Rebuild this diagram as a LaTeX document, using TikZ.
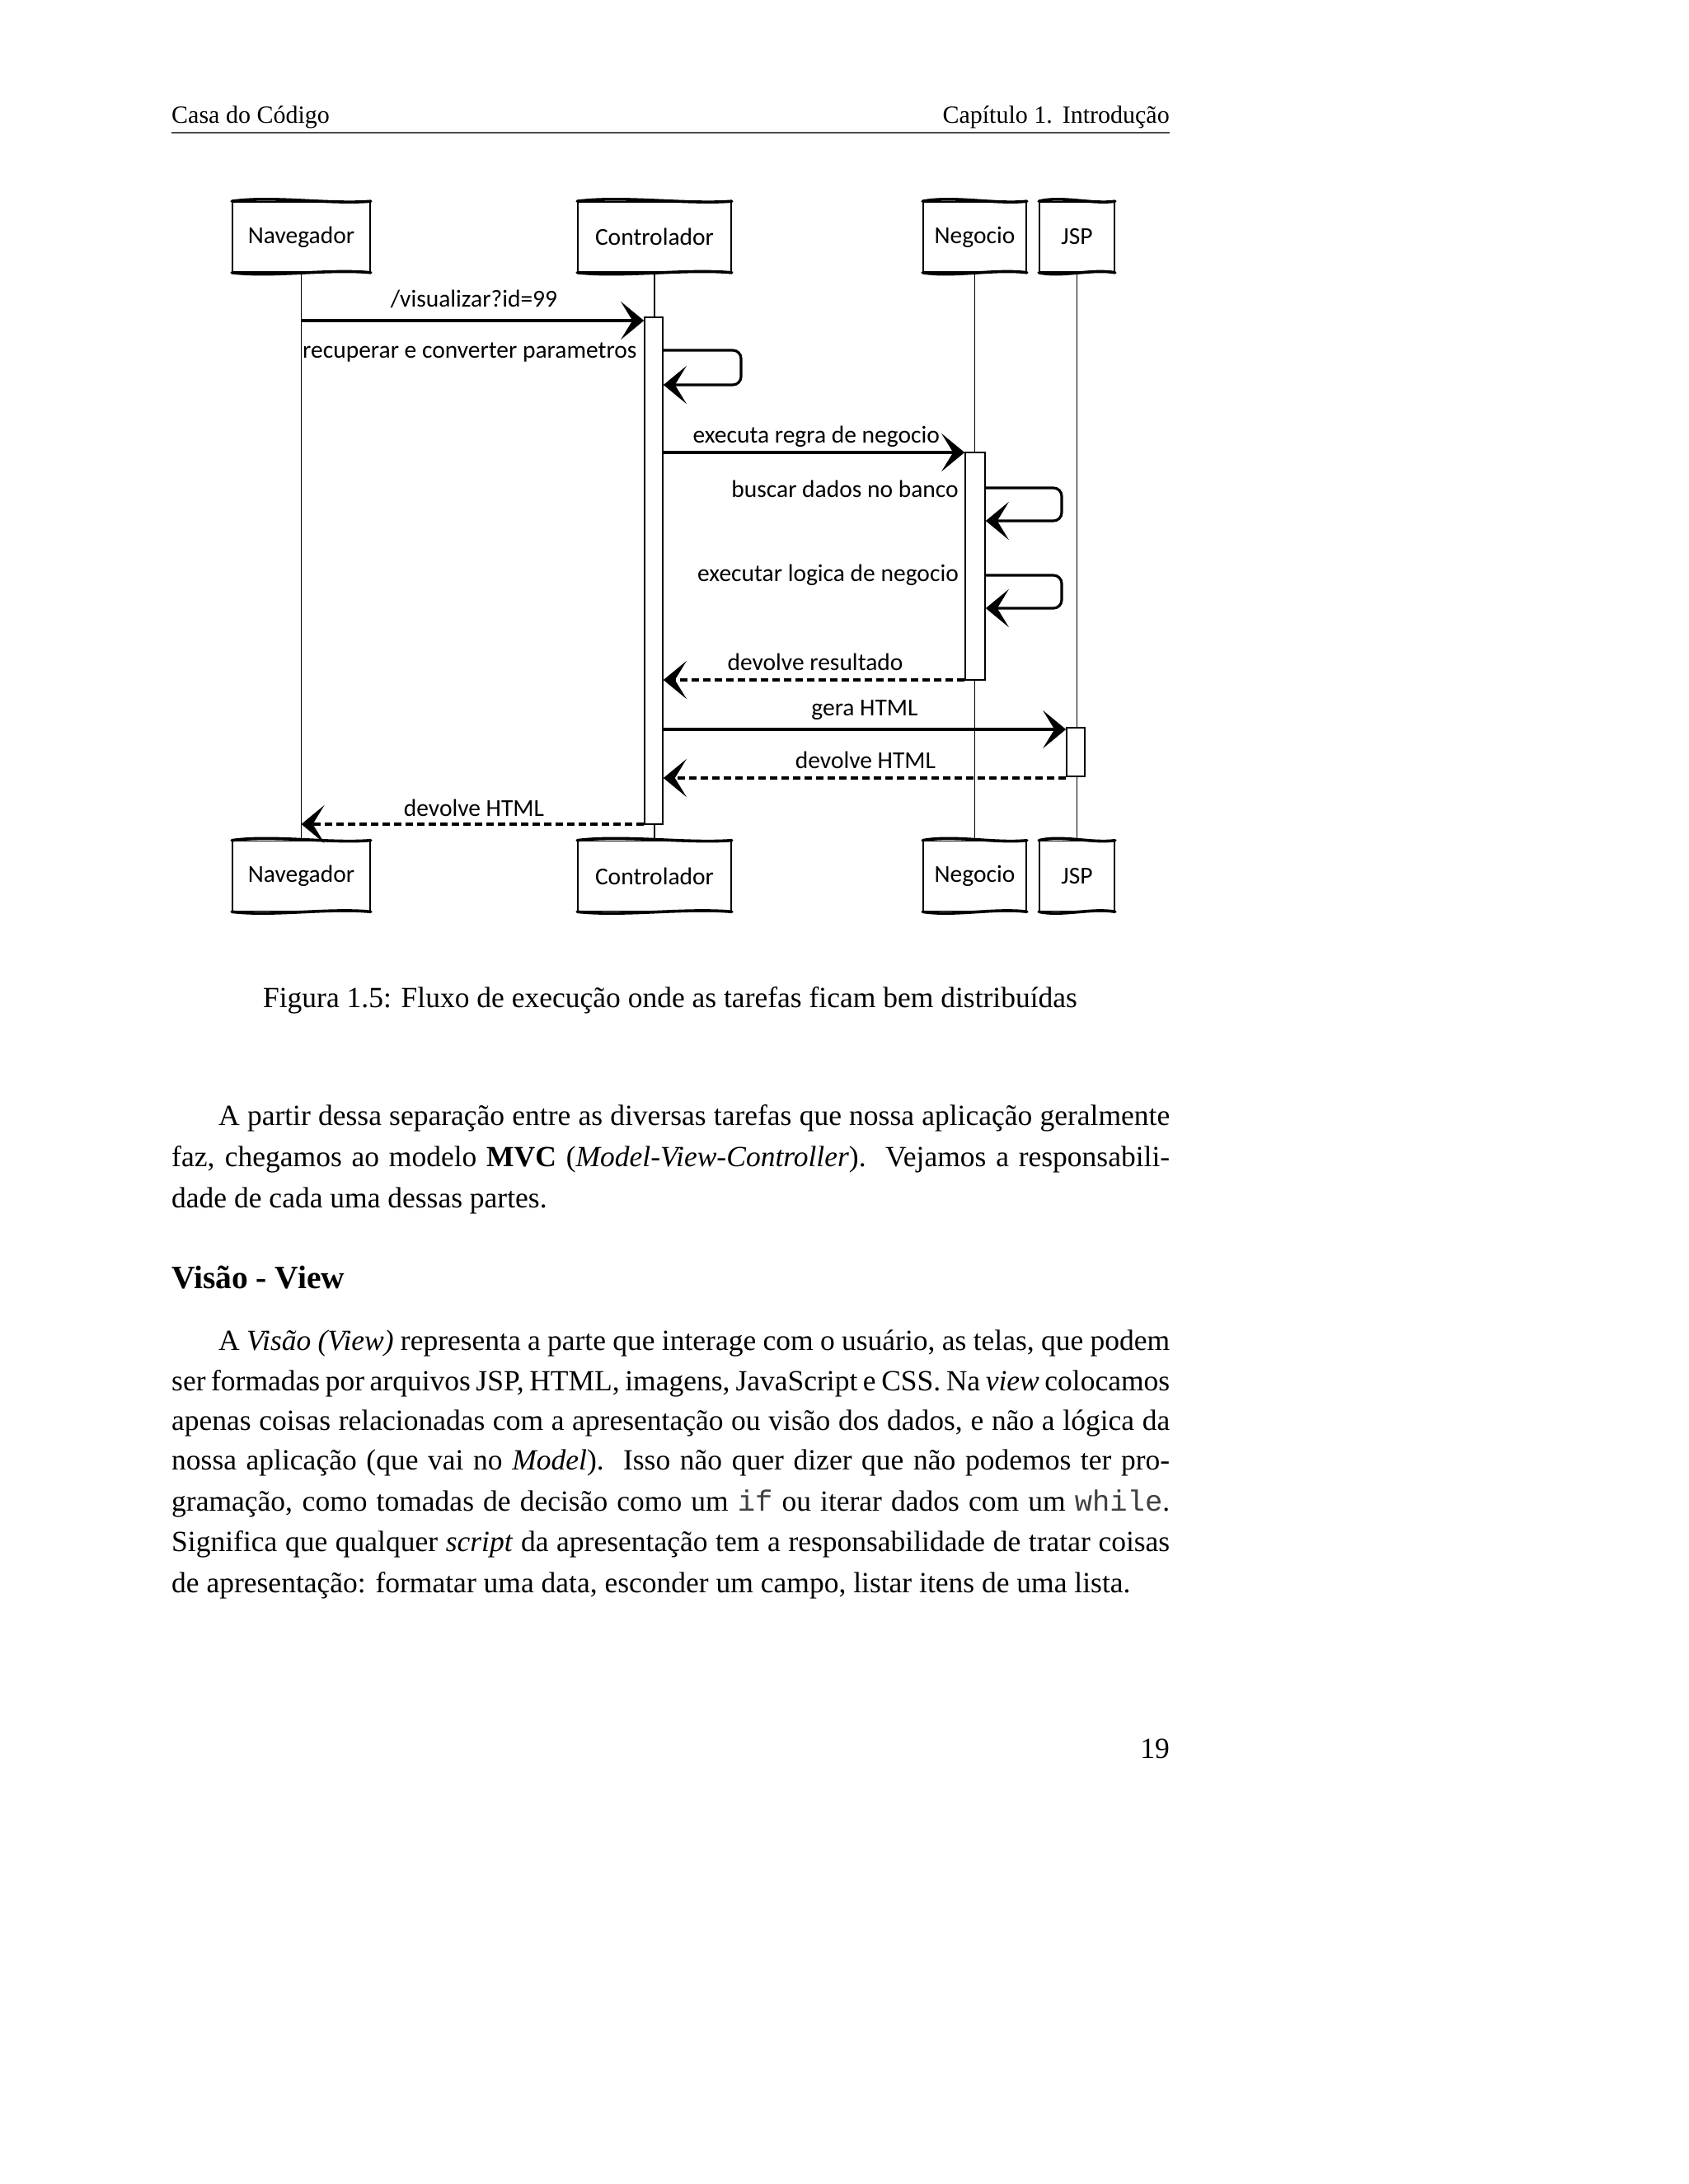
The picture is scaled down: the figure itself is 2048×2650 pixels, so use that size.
\documentclass[tikz,border=0pt]{standalone}
\usepackage{fontspec}
\setmainfont{Liberation Serif}
\setmonofont{Liberation Mono}
\newfontfamily\sketchfont{Carlito}
\usetikzlibrary{arrows.meta,calc}
\tikzset{
  box/.style={draw=black, line width=1.6pt, minimum height=85pt, inner sep=0pt, fill=white,
    font=\sketchfont\fontsize{29.5pt}{32pt}\selectfont},
  edge/.style={line width=3.6pt, line cap=round},
  life/.style={line width=1.6pt},
  act/.style={draw=black, line width=1.6pt, fill=white, minimum width=22pt, inner sep=0pt},
  msg/.style={line width=3.2pt, -{Stealth[length=28pt,width=46pt,inset=14pt]}},
  ret/.style={msg, dash pattern=on 9pt off 5pt},
  lbl/.style={font=\sketchfont\fontsize{29.5pt}{32pt}\selectfont, inner sep=0pt},
  txt/.style={anchor=base west, inner sep=0pt, font=\fontsize{35.5pt}{49pt}\selectfont},
  hdr/.style={inner sep=0pt, font=\fontsize{30pt}{34pt}\selectfont},
  head/.style={anchor=base west, inner sep=0pt, font=\bfseries\fontsize{39.5pt}{44pt}\selectfont},
}
\begin{document}
\begin{tikzpicture}[x=1pt,y=-1pt]
\useasboundingbox (0,0) rectangle (2048,2650);
\fill[white] (0,0) rectangle (2048,2650);

% header
\node[hdr, anchor=base west] (hl) at (208,149) {Casa do Código};
\node[hdr, anchor=base east] (hr) at (1419,149) {Capítulo 1.\hspace{0.4em}Introdução};
\draw[line width=2.5pt, black!70] (208,161) -- (1419,161);

% participant boxes
\node[box, minimum width=167pt] (navT) at (365.5,287.5) {Navegador};
\node[box, minimum width=186pt] (ctrlT) at (794,287.5) {Controlador};
\node[box, minimum width=125pt] (negT) at (1182.5,287.5) {Negocio};
\node[box, minimum width=91pt] (jspT) at (1306.5,287.5) {JSP};
\node[box, minimum width=167pt] (navB) at (365.5,1063) {Navegador};
\node[box, minimum width=186pt] (ctrlB) at (794,1063) {Controlador};
\node[box, minimum width=125pt] (negB) at (1182.5,1063) {Negocio};
\node[box, minimum width=91pt] (jspB) at (1306.5,1063) {JSP};
\foreach \n in {navT,ctrlT,negT,jspT,navB,ctrlB,negB,jspB}{
  \draw[edge] (\n.north west) .. controls ($(\n.north west)!0.3!(\n.north east)+(0,-7)$) and ($(\n.north west)!0.7!(\n.north east)+(0,4)$) .. (\n.north east);
  \draw[edge] (\n.south west) .. controls ($(\n.south west)!0.3!(\n.south east)+(0,6)$) and ($(\n.south west)!0.7!(\n.south east)+(0,-5)$) .. (\n.south east);
}

% lifelines
\draw[life] (navT.south) -- (navB.north);
\draw[life] (ctrlT.south) -- (ctrlB.north);
\draw[life] (negT.south) -- (negB.north);
\draw[life] (jspT.south) -- (jspB.north);

% activation bars
\node[act, minimum height=615pt] (ctrlA) at (793,692.5) {};
\node[act, minimum height=276pt, minimum width=24pt] (negA) at (1183,687) {};
\node[act, minimum height=59pt] (jspA) at (1305,912.5) {};

% messages
\draw[msg] (navT.south |- 0,389) -- (ctrlA.west |- 0,389);
\node[lbl] (m1) at (575,363) {/visualizar?id=99};

\draw[msg, rounded corners=10pt] (ctrlA.east |- 0,425) -- (899,425) -- (899,467) -- (ctrlA.east |- 0,467);
\node[lbl, anchor=west] (m2) at (367,428) {recuperar e converter parametros};

\draw[msg] (ctrlA.east |- 0,549) -- (negA.west |- 0,549);
\node[lbl, anchor=east] (m3) at (1140,530) {executa regra de negocio};

\draw[msg, rounded corners=10pt] (negA.east |- 0,592) -- (1288,592) -- (1288,632) -- (negA.east |- 0,632);
\node[lbl, anchor=east] (m4) at (1163,593) {buscar dados no banco};

\draw[msg, rounded corners=10pt] (negA.east |- 0,698) -- (1288,698) -- (1288,738) -- (negA.east |- 0,738);
\node[lbl, anchor=east] (m5) at (1163,698) {executar logica de negocio};

\draw[ret] (negA.west |- 0,825) -- (ctrlA.east |- 0,825);
\node[lbl] (m6) at (989,803) {devolve resultado};

\draw[msg] (ctrlA.east |- 0,885) -- (jspA.west |- 0,885);
\node[lbl] (m7) at (1049,862) {gera HTML};

\draw[ret] (jspA.west |- 0,944) -- (ctrlA.east |- 0,944);
\node[lbl] (m8) at (1050,922) {devolve HTML};

\draw[ret] (ctrlA.west |- 0,1000) -- (navT.south |- 0,1000);
\node[lbl] (m9) at (575,980) {devolve HTML};

% caption
\node[txt, anchor=base] (cap) at (813,1222) {Figura 1.5: Fluxo de execução onde as tarefas ficam bem distribuídas};

% paragraph 1
\node[txt] (p1a) at (265,1365) {\makebox[1154pt][s]{A partir dessa separação entre as diversas tarefas que nossa aplicação geralmente}};
\node[txt] (p1b) at (208,1415) {\makebox[1211pt][s]{faz, chegamos ao modelo \textbf{MVC} (\textit{Model-View-Controller}).\ \ Vejamos a responsabili-}};
\node[txt] (p1c) at (208,1465) {dade de cada uma dessas partes.};

% heading
\node[head] (h1) at (208,1563) {Visão - View};

% paragraph 2
\node[txt] (p2a) at (265,1638) {\makebox[1154pt][s]{A \textit{Visão (View)} representa a parte que interage com o usuário, as telas, que podem}};
\node[txt] (p2b) at (208,1687) {\makebox[1211pt][s]{ser formadas por arquivos JSP, HTML, imagens, JavaScript e CSS. Na \textit{view} colocamos}};
\node[txt] (p2c) at (208,1735) {\makebox[1211pt][s]{apenas coisas relacionadas com a apresentação ou visão dos dados, e não a lógica da}};
\node[txt] (p2d) at (208,1783) {\makebox[1211pt][s]{nossa aplicação (que vai no \textit{Model}).\ \ Isso não quer dizer que não podemos ter pro-}};
\node[txt] (p2e) at (208,1833) {\makebox[1211pt][s]{gramação, como tomadas de decisão como um \texttt{\color{black!75}if} ou iterar dados com um \texttt{\color{black!75}while}.}};
\node[txt] (p2f) at (208,1882) {\makebox[1211pt][s]{Significa que qualquer \textit{script} da apresentação tem a responsabilidade de tratar coisas}};
\node[txt] (p2g) at (208,1932) {de apresentação: formatar uma data, esconder um campo, listar itens de uma lista.};

% page number
\node[txt, anchor=base east] (pg) at (1419,2133) {19};
\end{tikzpicture}
\end{document}
